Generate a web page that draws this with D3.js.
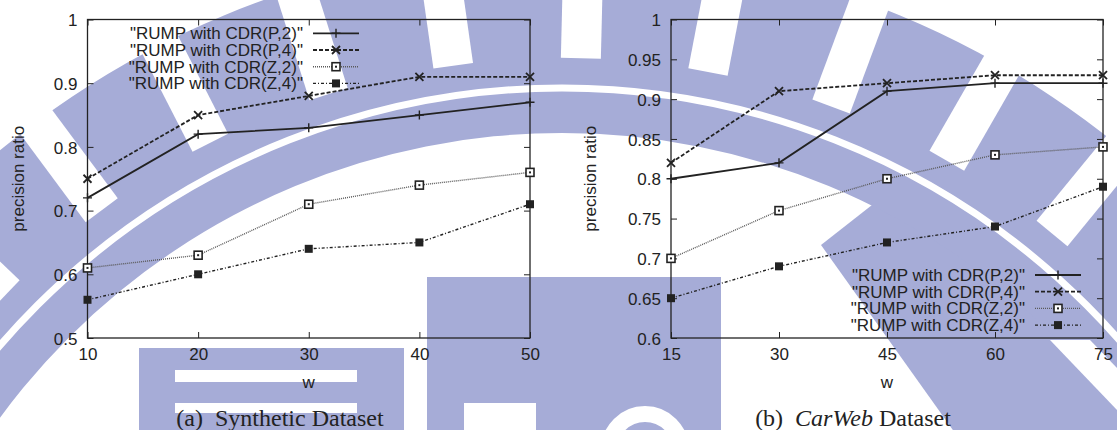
<!DOCTYPE html>
<html><head><meta charset="utf-8">
<script src="https://cdn.jsdelivr.net/npm/d3@7"></script>
<style>
html,body{margin:0;padding:0;background:#fff;}
svg{display:block;}
</style></head>
<body>
<script>
// ---------- data ----------
const seriesNames = ['"RUMP with CDR(P,2)"','"RUMP with CDR(P,4)"','"RUMP with CDR(Z,2)"','"RUMP with CDR(Z,4)"'];
const synthW = [10,20,30,40,50];
const synthP2 = [0.72,0.82,0.83,0.85,0.87];
const synthP4 = [0.75,0.85,0.88,0.91,0.91];
const synthZ2 = [0.61,0.63,0.71,0.74,0.76];
const synthZ4 = [0.56,0.60,0.64,0.65,0.71];
const carW = [15,30,45,60,75];
const carP2 = [0.80,0.82,0.91,0.92,0.92];
const carP4 = [0.82,0.91,0.92,0.93,0.93];
const carZ2 = [0.70,0.76,0.80,0.83,0.84];
const carZ4 = [0.65,0.69,0.72,0.74,0.79];
const synthYTicks = [0.5,0.6,0.7,0.8,0.9,1];
const carYTicks = [0.6,0.65,0.7,0.75,0.8,0.85,0.9,0.95,1];
const xLabel = "w";
const yLabel = "precision ratio";

const W = 1117, H = 430;
const svg = d3.select("body").append("svg").attr("width", W).attr("height", H);

// ---------- watermark (background decoration) ----------
const wmColor = "#a6acd7";
const wm = svg.append("g");
const cx = 562, cy = 830;
const arc = d3.arc();
// lower-right block (drawn first so the ring details sit on top)
wm.append("polygon").attr("points", "821,245 872,205 1117,205 1117,440 960,440").attr("fill", wmColor);
wm.append("path").attr("transform", `translate(${cx},${cy})`)
  .attr("d", arc({innerRadius: 697, outerRadius: 882, startAngle: -Math.PI/2, endAngle: Math.PI/2}))
  .attr("fill", wmColor);
const gapAngles = [-46.1,-36.6,-27.1,-17.6,-8.1,1.4,10.9,20.4,29.9,39.4,48.9];
gapAngles.forEach(a => {
  wm.append("rect").attr("transform", `translate(${cx},${cy}) rotate(${a})`)
    .attr("x", -20).attr("y", -1050).attr("width", 40).attr("height", 1050 - 772)
    .attr("fill", "#fff");
});
wm.append("circle").attr("cx", cx).attr("cy", cy).attr("r", 742)
  .attr("fill", "none").attr("stroke", "#fff").attr("stroke-width", 7);
wm.append("rect").attr("x", 139).attr("y", 348).attr("width", 265).attr("height", 90).attr("fill", wmColor);
wm.append("rect").attr("x", 175).attr("y", 370).attr("width", 182).attr("height", 12).attr("fill", "#fff");
wm.append("rect").attr("x", 175).attr("y", 403).attr("width", 182).attr("height", 10).attr("fill", "#fff");
wm.append("rect").attr("x", 427).attr("y", 277).attr("width", 294).attr("height", 160).attr("fill", wmColor);
wm.append("rect").attr("x", 464).attr("y", 403).attr("width", 72).attr("height", 30).attr("fill", "#fff");
wm.append("circle").attr("cx", 645).attr("cy", 450).attr("r", 36).attr("fill", "none").attr("stroke", "#fff").attr("stroke-width", 16);
wm.append("polygon").attr("points", "1050,340 1090,340 1117,368 1117,410").attr("fill", "#fff");

// ---------- chart drawing ----------
const ink = "#222";
const styles = [
  {dash: null, width: 1.8, color: ink, marker: "plus"},
  {dash: "4,2", width: 1.8, color: ink, marker: "cross"},
  {dash: "1,1", width: 1.4, color: "#5a5a5a", marker: "box"},
  {dash: "3,2,1,2", width: 1.4, color: ink, marker: "fbox"}
];

function marker(g, type, x, y) {
  if (type === "plus") {
    g.append("path").attr("d", `M${x-4.5},${y}H${x+4.5}M${x},${y-4.5}V${y+4.5}`)
      .attr("stroke", ink).attr("stroke-width", 1.4);
  } else if (type === "cross") {
    g.append("path").attr("d", `M${x-4},${y-4}L${x+4},${y+4}M${x-4},${y+4}L${x+4},${y-4}`)
      .attr("stroke", ink).attr("stroke-width", 1.8);
  } else if (type === "box") {
    g.append("rect").attr("x", x-4).attr("y", y-4).attr("width", 8).attr("height", 8)
      .attr("fill", "#fff").attr("stroke", ink).attr("stroke-width", 1.6);
    g.append("rect").attr("x", x-1).attr("y", y-1).attr("width", 2).attr("height", 2).attr("fill", ink);
  } else {
    g.append("rect").attr("x", x-4).attr("y", y-4).attr("width", 8).attr("height", 8).attr("fill", ink);
  }
}

function panel(opt) {
  const g = svg.append("g");
  const x = d3.scaleLinear().domain(opt.xDomain).range([opt.x0, opt.x1]);
  const y = d3.scaleLinear().domain(opt.yDomain).range([338, 19.5]);
  const tl = 6;
  const axB = d3.axisBottom(x).tickValues(opt.xs).tickSize(-tl).tickPadding(10).tickFormat(d3.format("d"));
  const axT = d3.axisTop(x).tickValues(opt.xs).tickSize(-tl).tickFormat("");
  const axL = d3.axisLeft(y).tickValues(opt.yTicks).tickSize(-tl).tickPadding(10).tickFormat(d => String(+d.toFixed(2)));
  const axR = d3.axisRight(y).tickValues(opt.yTicks).tickSize(-tl).tickFormat("");
  const fontStyle = s => s.selectAll("text").attr("font-family", "'Liberation Sans', Arial, sans-serif")
      .attr("font-size", 17).attr("fill", ink);
  g.append("g").attr("transform", "translate(0,338)").call(axB).call(fontStyle)
    .call(s => s.select(".domain").remove()).call(s => s.selectAll("line").attr("stroke", ink));
  g.append("g").attr("transform", "translate(0,19.5)").call(axT)
    .call(s => s.select(".domain").remove()).call(s => s.selectAll("line").attr("stroke", ink));
  g.append("g").attr("transform", `translate(${opt.x0},0)`).call(axL).call(fontStyle)
    .call(s => s.select(".domain").remove()).call(s => s.selectAll("line").attr("stroke", ink))
    .call(s => s.selectAll("text").attr("dy", "0.36em"));
  g.append("g").attr("transform", `translate(${opt.x1},0)`).call(axR)
    .call(s => s.select(".domain").remove()).call(s => s.selectAll("line").attr("stroke", ink));
  g.selectAll(".tick line").attr("stroke-width", 1);
  g.append("rect").attr("x", opt.x0).attr("y", 19.5).attr("width", opt.x1 - opt.x0).attr("height", 338 - 19.5)
    .attr("fill", "none").attr("stroke", ink).attr("stroke-width", 1.3);

  const line = d3.line().x(d => x(d[0])).y(d => y(d[1]));
  opt.series.forEach((vals, i) => {
    const st = styles[i];
    const pts = opt.xs.map((w, j) => [w, vals[j]]);
    g.append("path").attr("d", line(pts)).attr("fill", "none")
      .attr("stroke", st.color).attr("stroke-width", st.width)
      .attr("stroke-dasharray", st.dash);
    pts.forEach(p => marker(g, st.marker, x(p[0]), y(p[1])));
  });

  seriesNames.forEach((name, i) => {
    const st = styles[i];
    const by = opt.legY + i * 16.7;
    g.append("text").attr("x", opt.legX).attr("y", by).attr("text-anchor", "end")
      .attr("font-family", "'Liberation Sans', Arial, sans-serif").attr("font-size", 17).attr("fill", ink)
      .text(name);
    const ly = by - 6;
    g.append("line").attr("x1", opt.legX + 10).attr("x2", opt.legX + 56).attr("y1", ly).attr("y2", ly)
      .attr("stroke", st.color).attr("stroke-width", st.width).attr("stroke-dasharray", st.dash);
    marker(g, st.marker, opt.legX + 33, ly);
  });

  g.append("text").attr("x", (opt.x0 + opt.x1) / 2).attr("y", 388).attr("text-anchor", "middle")
    .attr("font-family", "'Liberation Sans', Arial, sans-serif").attr("font-size", 17).attr("fill", ink).text(xLabel);
  g.append("text").attr("transform", `translate(${opt.yLabX},178.75) rotate(-90)`).attr("text-anchor", "middle")
    .attr("font-family", "'Liberation Sans', Arial, sans-serif").attr("font-size", 17).attr("fill", ink).text(yLabel);
  const cap = g.append("text").attr("x", opt.capX).attr("y", 426).attr("text-anchor", "middle")
    .attr("font-family", "'Liberation Serif', 'Times New Roman', serif").attr("font-size", 24).attr("fill", ink);
  opt.caption.forEach(part => cap.append("tspan").attr("font-style", part.italic ? "italic" : null).text(part.t));
}

panel({x0: 87.5, x1: 530, xDomain: [10, 50], xs: synthW, yDomain: [0.5, 1], yTicks: synthYTicks,
  series: [synthP2, synthP4, synthZ2, synthZ4], legX: 303, legY: 39.3, yLabX: 24, capX: 280,
  caption: [{t: "(a)\u2002Synthetic Dataset"}]});
panel({x0: 671, x1: 1103, xDomain: [15, 75], xs: carW, yDomain: [0.6, 1], yTicks: carYTicks,
  series: [carP2, carP4, carZ2, carZ4], legX: 1025, legY: 281, yLabX: 596, capX: 853,
  caption: [{t: "(b)\u2002"}, {t: "CarWeb", italic: true}, {t: " Dataset"}]});
</script>
</body></html>
